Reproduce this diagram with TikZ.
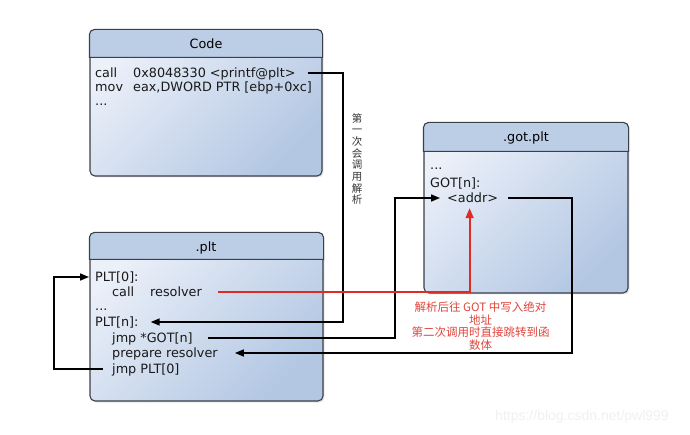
\documentclass[tikz,border=0pt]{standalone}
\usepackage{fontspec}
\setmainfont{DejaVu Sans}
\newfontfamily\cjkfont{Noto Sans CJK SC}
\newfontfamily\wmfont{Liberation Sans}
\usetikzlibrary{arrows.meta,calc,shadows}
\definecolor{boxlight}{HTML}{EBF0F9}
\definecolor{boxdark}{HTML}{B3C7E3}
\definecolor{headfill}{HTML}{BCCDE6}
\definecolor{border}{HTML}{3A3F48}
\definecolor{redline}{HTML}{E02A24}
\definecolor{redtext}{HTML}{E0443C}
\begin{document}
\begin{tikzpicture}[x=1pt,y=-1pt,
  box/.style={draw=border, line width=1.1pt, rounded corners=5pt,
    top color=boxlight, bottom color=boxdark, shading angle=45,
    drop shadow={opacity=0.2, shadow xshift=1.5pt, shadow yshift=-1.5pt},
    inner sep=0pt},
  head/.style={draw=border, line width=1.1pt, fill=headfill},
  title/.style={font=\fontsize{12.8}{15}\selectfont, inner sep=0pt},
  txt/.style={anchor=west, inner sep=0pt, text height=9pt, text depth=0pt,
    font=\fontsize{12.8}{15}\selectfont, text=black!90},
  conn/.style={line width=1.6pt, black, -{Triangle[length=9pt,width=7pt]}},
  redconn/.style={line width=1.8pt, redline, -{Triangle[length=10pt,width=8pt]}},
]
\useasboundingbox (0,0) rectangle (690,435);

% ---------------- Code box
\node[box, minimum width=232pt, minimum height=146pt] (code) at (206,103) {};
\path[head] ($(code.north west)+(0,28)$) [rounded corners=5pt] -- (code.north west) -- (code.north east) [sharp corners] -- ($(code.north east)+(0,28)$) -- cycle;
\node[title] (codet) at (206,44) {Code};
\node[txt] (c1a) at (95,73) {call};
\node[txt] (printf) at (133,73) {0x8048330 <printf@plt>};
\node[txt] (c2a) at (95,87) {mov};
\node[txt] (c2b) at (133,87) {eax,DWORD PTR [ebp+0xc]};
\node[txt] (c3) at (95,101.5) {...};

% ---------------- .plt box
\node[box, minimum width=233pt, minimum height=168pt] (plt) at (206.5,317) {};
\path[head] ($(plt.north west)+(0,27)$) [rounded corners=5pt] -- (plt.north west) -- (plt.north east) [sharp corners] -- ($(plt.north east)+(0,27)$) -- cycle;
\node[title] (pltt) at (206,248) {.plt};
\node[txt] (plt0) at (95,277) {PLT[0]:};
\node[txt] (callw) at (112,292) {call};
\node[txt] (callres) at (150,292) {resolver};
\node[txt] (pdots) at (95,306.5) {...};
\node[txt] (pltn) at (95,322) {PLT[n]:};
\node[txt] (jmpgot) at (112,338) {jmp *GOT[n]};
\node[txt] (prep) at (112,353) {prepare resolver};
\node[txt] (jmpplt) at (112,369) {jmp PLT[0]};

% ---------------- .got.plt box
\node[box, minimum width=204pt, minimum height=170pt] (got) at (526,208) {};
\path[head] ($(got.north west)+(0,29)$) [rounded corners=5pt] -- (got.north west) -- (got.north east) [sharp corners] -- ($(got.north east)+(0,29)$) -- cycle;
\node[title] (gott) at (526,138) {.got.plt};
\node[txt] (gdots) at (430,165.5) {...};
\node[txt] (gotn) at (430,183) {GOT[n]:};
\node[txt] (addr) at (447,198) {<addr>};

% ---------------- guide coordinates
\coordinate (xr1) at (343,0);
\coordinate (xr3) at (395,0);
\coordinate (xr4) at (572,0);
\coordinate (xl) at (54,0);

% ---------------- connectors
\draw[conn] ($(printf.east)+(12,0)$) -| (xr1 |- pltn.east) -- ($(pltn.east)+(12,0)$);
\draw[conn] ($(jmpgot.east)+(15,0)$) -- (xr3 |- jmpgot.east) |- ($(addr.west)+(-7,0)$);
\draw[conn] ($(addr.east)+(10,0)$) -- (xr4 |- addr.east) |- ($(prep.east)+(17,0)$);
\draw[conn] ($(jmpplt.west)+(-9,0)$) -- (xl |- jmpplt.west) |- ($(plt0.west)+(-6,0)$);
\draw[redconn] ($(callres.east)+(16,0)$) -| ($(addr.south)+(-3,5.5)$);

% ---------------- labels
\node[inner sep=0pt, align=center, text=black!80,
  font=\cjkfont\fontsize{10.5}{11.7}\selectfont] (vlabel) at (357,159)
  {第\\一\\次\\会\\调\\用\\解\\析};
\node[inner sep=0pt, align=center, text=redtext,
  font=\cjkfont\fontsize{11.5}{12.6}\selectfont] (rlabel) at (480.5,326)
  {解析后往 GOT 中写入绝对\\地址\\第二次调用时直接跳转到函\\数体};
\node[inner sep=0pt, text=black!6, font=\wmfont\fontsize{14}{16}\selectfont] (wm) at (582,417)
  {https://blog.csdn.net/pwl999};
\end{tikzpicture}
\end{document}
